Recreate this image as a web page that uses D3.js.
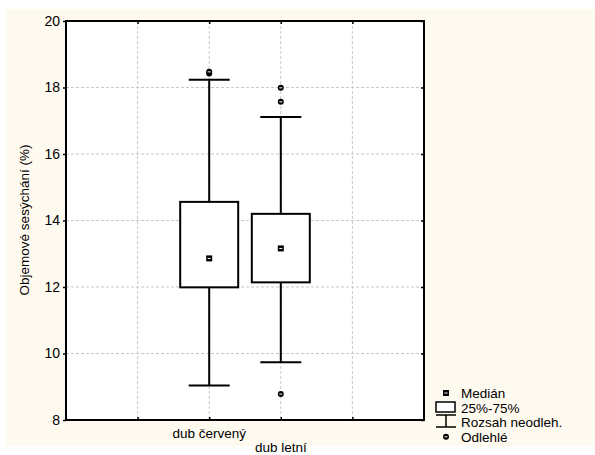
<!DOCTYPE html>
<html>
<head>
<meta charset="utf-8">
<script src="https://cdn.jsdelivr.net/npm/d3@7"></script>
<style>
  body { margin: 0; background: #fff; }
  svg { display: block; }
</style>
</head>
<body>
<script>
let w = 595;
let h = 455;

// data
let categories = ["dub červený", "dub letní"];
let catPos = [2, 3];
let q1 = [11.99, 12.14];
let q3 = [14.56, 14.20];
let medians = [12.86, 13.16];
let whiskLo = [9.04, 9.74];
let whiskHi = [18.23, 17.11];
let outliers = [[18.42, 18.47], [17.99, 17.57, 8.78]];
let yTicks = [8, 10, 12, 14, 16, 18, 20];
let xGrid = [1, 2, 3, 4];
let legendLabels = ["Medián", "25%-75%", "Rozsah neodleh.", "Odlehlé"];

let pLeft = 66, pRight = 424, pTop = 21, pBottom = 420;
let fs = 13.5;

let x = d3.scaleLinear().domain([0, 5]).range([pLeft, pRight]);
let y = d3.scaleLinear().domain([8, 20]).range([pBottom, pTop]);

let svg = d3.select("body").append("svg")
  .attr("width", w)
  .attr("height", h)
  .attr("font-family", "Liberation Sans, Arial, sans-serif");

// cream background
svg.append("rect")
  .attr("x", 6).attr("y", 9)
  .attr("width", w - 6).attr("height", 437)
  .attr("fill", "#fffaf0");

// plot area
svg.append("rect")
  .attr("x", pLeft).attr("y", pTop)
  .attr("width", pRight - pLeft).attr("height", pBottom - pTop)
  .attr("fill", "#fff");

// grid
svg.selectAll("line.hgrid")
  .data(yTicks.slice(1, -1))
  .enter().append("line")
  .attr("x1", pLeft).attr("x2", pRight)
  .attr("y1", d => y(d)).attr("y2", d => y(d))
  .attr("stroke", "#c8c8c8")
  .attr("stroke-dasharray", "3,2");

svg.selectAll("line.vgrid")
  .data(xGrid)
  .enter().append("line")
  .attr("y1", pTop).attr("y2", pBottom)
  .attr("x1", d => x(d)).attr("x2", d => x(d))
  .attr("stroke", "#c8c8c8")
  .attr("stroke-dasharray", "3,2");

// axes
let yAxis = d3.axisLeft(y).tickValues(yTicks).tickSize(3).tickPadding(3);
let gy = svg.append("g").attr("transform", `translate(${pLeft},0)`).call(yAxis);
gy.select(".domain").remove();
gy.selectAll("text").attr("font-size", 14).attr("font-family", "Liberation Sans, Arial, sans-serif").attr("fill", "#000");
gy.selectAll("line").attr("stroke-width", 1.5);

let gyr = svg.append("g").attr("transform", `translate(${pRight},0)`)
  .call(d3.axisLeft(y).tickValues(yTicks).tickSize(3).tickFormat(""));
gyr.select(".domain").remove();
gyr.selectAll("line").attr("stroke-width", 1.5);

let gxt = svg.append("g").attr("transform", `translate(0,${pTop})`)
  .call(d3.axisBottom(x).tickValues(xGrid).tickSize(3).tickFormat(""));
gxt.select(".domain").remove();
gxt.selectAll("line").attr("stroke-width", 1.5);

let gxb = svg.append("g").attr("transform", `translate(0,${pBottom})`)
  .call(d3.axisTop(x).tickValues(xGrid).tickSize(3).tickFormat(""));
gxb.select(".domain").remove();
gxb.selectAll("line").attr("stroke-width", 1.5);

// frame
svg.append("rect")
  .attr("x", pLeft).attr("y", pTop)
  .attr("width", pRight - pLeft).attr("height", pBottom - pTop)
  .attr("fill", "none").attr("stroke", "#000").attr("stroke-width", 2);

// category labels (staggered)
svg.selectAll("text.cat")
  .data(categories)
  .enter().append("text")
  .attr("x", (d, i) => x(catPos[i]))
  .attr("y", (d, i) => 438 + i * 14)
  .attr("text-anchor", "middle")
  .attr("font-size", fs)
  .text(d => d);

// y title
svg.append("text")
  .attr("transform", "translate(29,220) rotate(-90)")
  .attr("text-anchor", "middle")
  .attr("font-size", fs)
  .text("Objemové sesýchání (%)");

let boxW = 58, capW = 41;

// boxes
let g = svg.selectAll("g.box")
  .data(categories)
  .enter().append("g");

g.append("line")
  .attr("x1", (d, i) => x(catPos[i])).attr("x2", (d, i) => x(catPos[i]))
  .attr("y1", (d, i) => y(whiskHi[i])).attr("y2", (d, i) => y(q3[i]))
  .attr("stroke", "#000").attr("stroke-width", 2);
g.append("line")
  .attr("x1", (d, i) => x(catPos[i])).attr("x2", (d, i) => x(catPos[i]))
  .attr("y1", (d, i) => y(q1[i])).attr("y2", (d, i) => y(whiskLo[i]))
  .attr("stroke", "#000").attr("stroke-width", 2);
g.append("line")
  .attr("x1", (d, i) => x(catPos[i]) - capW / 2).attr("x2", (d, i) => x(catPos[i]) + capW / 2)
  .attr("y1", (d, i) => y(whiskHi[i])).attr("y2", (d, i) => y(whiskHi[i]))
  .attr("stroke", "#000").attr("stroke-width", 2);
g.append("line")
  .attr("x1", (d, i) => x(catPos[i]) - capW / 2).attr("x2", (d, i) => x(catPos[i]) + capW / 2)
  .attr("y1", (d, i) => y(whiskLo[i])).attr("y2", (d, i) => y(whiskLo[i]))
  .attr("stroke", "#000").attr("stroke-width", 2);
g.append("rect")
  .attr("x", (d, i) => x(catPos[i]) - boxW / 2)
  .attr("y", (d, i) => y(q3[i]))
  .attr("width", boxW)
  .attr("height", (d, i) => y(q1[i]) - y(q3[i]))
  .attr("fill", "#fff").attr("stroke", "#000").attr("stroke-width", 2);

function medianMark(sel, cx, cy) {
  sel.append("rect").attr("x", cx - 3).attr("y", cy - 3).attr("width", 6).attr("height", 6).attr("fill", "#000");
  sel.append("line").attr("x1", cx - 1.5).attr("x2", cx + 1.5).attr("y1", cy).attr("y2", cy)
    .attr("stroke", "#fff").attr("stroke-width", 1);
}
function outlierMark(sel, cx, cy) {
  sel.append("circle").attr("cx", cx).attr("cy", cy).attr("r", 3).attr("fill", "#000");
  sel.append("line").attr("x1", cx - 1.5).attr("x2", cx + 1.5).attr("y1", cy).attr("y2", cy)
    .attr("stroke", "#fff").attr("stroke-width", 1);
}

categories.forEach((c, i) => {
  medianMark(svg, x(catPos[i]), y(medians[i]));
  outliers[i].forEach(v => outlierMark(svg, x(catPos[i]), y(v)));
});

// legend
let lg = svg.append("g");
let lx = 446, ly0 = 393, ldy = 14.6;
lg.selectAll("text")
  .data(legendLabels)
  .enter().append("text")
  .attr("x", 461)
  .attr("y", (d, i) => ly0 + i * ldy + 5)
  .attr("font-size", fs)
  .text(d => d);
medianMark(lg, lx, ly0);
lg.append("rect").attr("x", 436).attr("y", 402).attr("width", 19).attr("height", 10)
  .attr("fill", "#fff").attr("stroke", "#000").attr("stroke-width", 1.5);
lg.append("line").attr("x1", 436).attr("x2", 456).attr("y1", 415).attr("y2", 415).attr("stroke", "#000").attr("stroke-width", 1.5);
lg.append("line").attr("x1", lx).attr("x2", lx).attr("y1", 415).attr("y2", 427).attr("stroke", "#000").attr("stroke-width", 1.5);
lg.append("line").attr("x1", 436).attr("x2", 456).attr("y1", 427).attr("y2", 427).attr("stroke", "#000").attr("stroke-width", 1.5);
outlierMark(lg, lx, ly0 + 3 * ldy);
</script>
</body>
</html>
